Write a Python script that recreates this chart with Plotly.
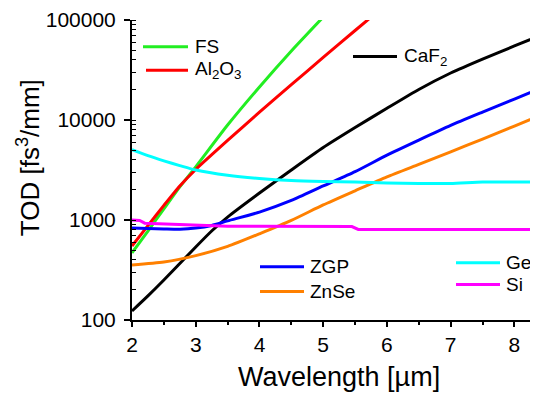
import plotly.graph_objects as go

# ---------------- data ----------------
fs_wl = [2.0, 2.25, 2.5, 2.75, 3.0, 3.5, 4.0, 4.5, 5.0]
fs_tod = [469, 776, 1290, 2140, 3400, 8900, 21400, 49000, 107000]

al_wl = [2.0, 2.25, 2.5, 2.75, 3.0, 3.5, 4.0, 4.5, 5.0, 5.5, 5.8]
al_tod = [550, 880, 1400, 2190, 3200, 6240, 12000, 22600, 42200, 78500, 113500]

caf_wl = [2.0, 2.25, 2.5, 2.75, 3.0, 3.25, 3.5, 4.0, 4.5, 5.0, 5.5, 6.0, 6.5, 7.0, 7.5, 8.0, 8.4]
caf_tod = [123, 174, 251, 367, 537, 776, 1070, 1860, 3160, 5300, 8400, 13100, 20200, 29500, 40700, 55000, 70000]

zgp_wl = [2.0, 2.5, 2.75, 3.0, 3.25, 3.5, 4.0, 4.5, 5.0, 5.5, 6.0, 6.5, 7.0, 7.5, 8.0, 8.4]
zgp_tod = [830, 815, 810, 830, 880, 980, 1200, 1570, 2190, 3040, 4450, 6300, 8830, 12000, 16200, 20700]

znse_wl = [2.0, 2.5, 3.0, 3.5, 4.0, 4.5, 5.0, 5.5, 6.0, 6.5, 7.0, 7.5, 8.0, 8.4]
znse_tod = [355, 380, 440, 545, 728, 990, 1415, 1960, 2700, 3600, 4800, 6450, 8700, 11100]

ge_wl = [2.0, 2.25, 2.5, 2.75, 3.0, 3.5, 4.0, 4.5, 5.0, 5.5, 6.0, 6.5, 7.0, 7.5, 8.0, 8.4]
ge_tod = [5060, 4400, 3900, 3500, 3160, 2800, 2600, 2480, 2430, 2400, 2350, 2320, 2320, 2400, 2400, 2400]

si_wl = [2.0, 2.12, 2.2, 2.6, 3.0, 3.5, 4.0, 5.0, 5.45, 5.55, 6.0, 7.0, 8.0, 8.4]
si_tod = [1000, 990, 930, 905, 880, 865, 865, 865, 860, 805, 805, 805, 805, 805]

x_ticks = [2, 3, 4, 5, 6, 7, 8]
y_ticks = [100, 1000, 10000, 100000]
y_ticktext = ["100", "1000", "10000", "100000"]

FONT = "Liberation Sans, Arial, sans-serif"

series = [
    ("FS", fs_wl, fs_tod, "#22ee22", "spline"),
    ("Al<sub>2</sub>O<sub>3</sub>", al_wl, al_tod, "#ff0000", "spline"),
    ("CaF<sub>2</sub>", caf_wl, caf_tod, "#000000", "spline"),
    ("ZGP", zgp_wl, zgp_tod, "#0000ff", "spline"),
    ("ZnSe", znse_wl, znse_tod, "#ff8000", "spline"),
    ("Ge", ge_wl, ge_tod, "#00ffff", "spline"),
    ("Si", si_wl, si_tod, "#ff00ff", "linear"),
]

fig = go.Figure()
for name, x, y, col, shape in series:
    fig.add_trace(go.Scatter(x=x, y=y, mode="lines", name=name,
                             line=dict(color=col, width=3, shape=shape, smoothing=0.6),
                             showlegend=False))

# page offset of the figure (browser body margin)
OFF = 8
W, H = 538 - OFF, 394 - OFF
# plot-area geometry in page pixels, used for legend placement
L, R, T, B = 132, 538, 16, 320
def px(x):
    return (x - L) / (R - L)
def py(y):
    return (B - y) / (B - T)

legend_items = [
    # label, colour, line x0, x1, y, text x  (page pixels)
    ("FS", "#22ee22", 143, 188, 43, 193),
    ("Al<sub>2</sub>O<sub>3</sub>", "#ff0000", 146, 188, 67, 193),
    ("CaF<sub>2</sub>", "#000000", 353, 397, 53, 402),
    ("ZGP", "#0000ff", 260, 304, 266, 308),
    ("ZnSe", "#ff8000", 260, 304, 291, 308),
    ("Ge", "#00ffff", 456, 500, 262, 504),
    ("Si", "#ff00ff", 456, 500, 284, 504),
]
shapes = []
annotations = []
for lab, col, x0, x1, yy, tx in legend_items:
    shapes.append(dict(type="line", xref="paper", yref="paper",
                       x0=px(x0), x1=px(x1), y0=py(yy), y1=py(yy),
                       line=dict(color=col, width=3)))
    annotations.append(dict(text=lab, xref="paper", yref="paper",
                            x=px(tx), y=py(yy), xanchor="left", yanchor="middle",
                            showarrow=False, font=dict(family=FONT, size=19, color="black")))

# axis titles
annotations.append(dict(text="Wavelength [µm]", xref="paper", yref="paper",
                        x=px(339), y=py(378), xanchor="center", yanchor="middle",
                        showarrow=False, font=dict(family=FONT, size=27, color="black")))
annotations.append(dict(text="TOD [fs<sup>3</sup>/mm]", xref="paper", yref="paper",
                        x=px(28), y=py(155), xanchor="center", yanchor="middle",
                        textangle=-90, showarrow=False,
                        font=dict(family=FONT, size=26, color="black")))

fig.update_layout(
    width=W, height=H,
    margin=dict(l=L - OFF, r=0, t=T - OFF, b=H - (B - OFF)),
    paper_bgcolor="white", plot_bgcolor="white",
    font=dict(family=FONT, color="black"),
    shapes=shapes, annotations=annotations,
    xaxis=dict(range=[2, 8.37], tickvals=x_ticks, ticks="outside", ticklen=5, tickwidth=1.5,
               tickcolor="black", showline=True, linewidth=2, linecolor="black",
               showgrid=False, zeroline=False, tickfont=dict(family=FONT, size=21),
               ticklabeloverflow="allow",
               minor=dict(dtick=0.5, ticks="outside", ticklen=3, tickwidth=1.5,
                          tickcolor="black", showgrid=False)),
    xaxis2=dict(range=[2, 8.37], overlaying="x", side="top", anchor="y",
                ticks="inside", dtick=0.5, tick0=2, ticklen=6, tickwidth=1.5, tickcolor="black",
                showticklabels=False, showline=True, linewidth=2, linecolor="black",
                showgrid=False, zeroline=False),
    yaxis=dict(type="log", range=[2, 5], tickvals=y_ticks, ticktext=y_ticktext,
               ticks="outside", ticklen=6, tickwidth=1.5, tickcolor="black",
               showline=True, linewidth=2, linecolor="black", showgrid=False,
               zeroline=False, tickfont=dict(family=FONT, size=21), ticklabelstandoff=4,
               ticklabeloverflow="allow",
               minor=dict(dtick="D1", ticks="inside", ticklen=4, tickwidth=1,
                          tickcolor="black", showgrid=False)),
)

fig.write_html("out.html")
